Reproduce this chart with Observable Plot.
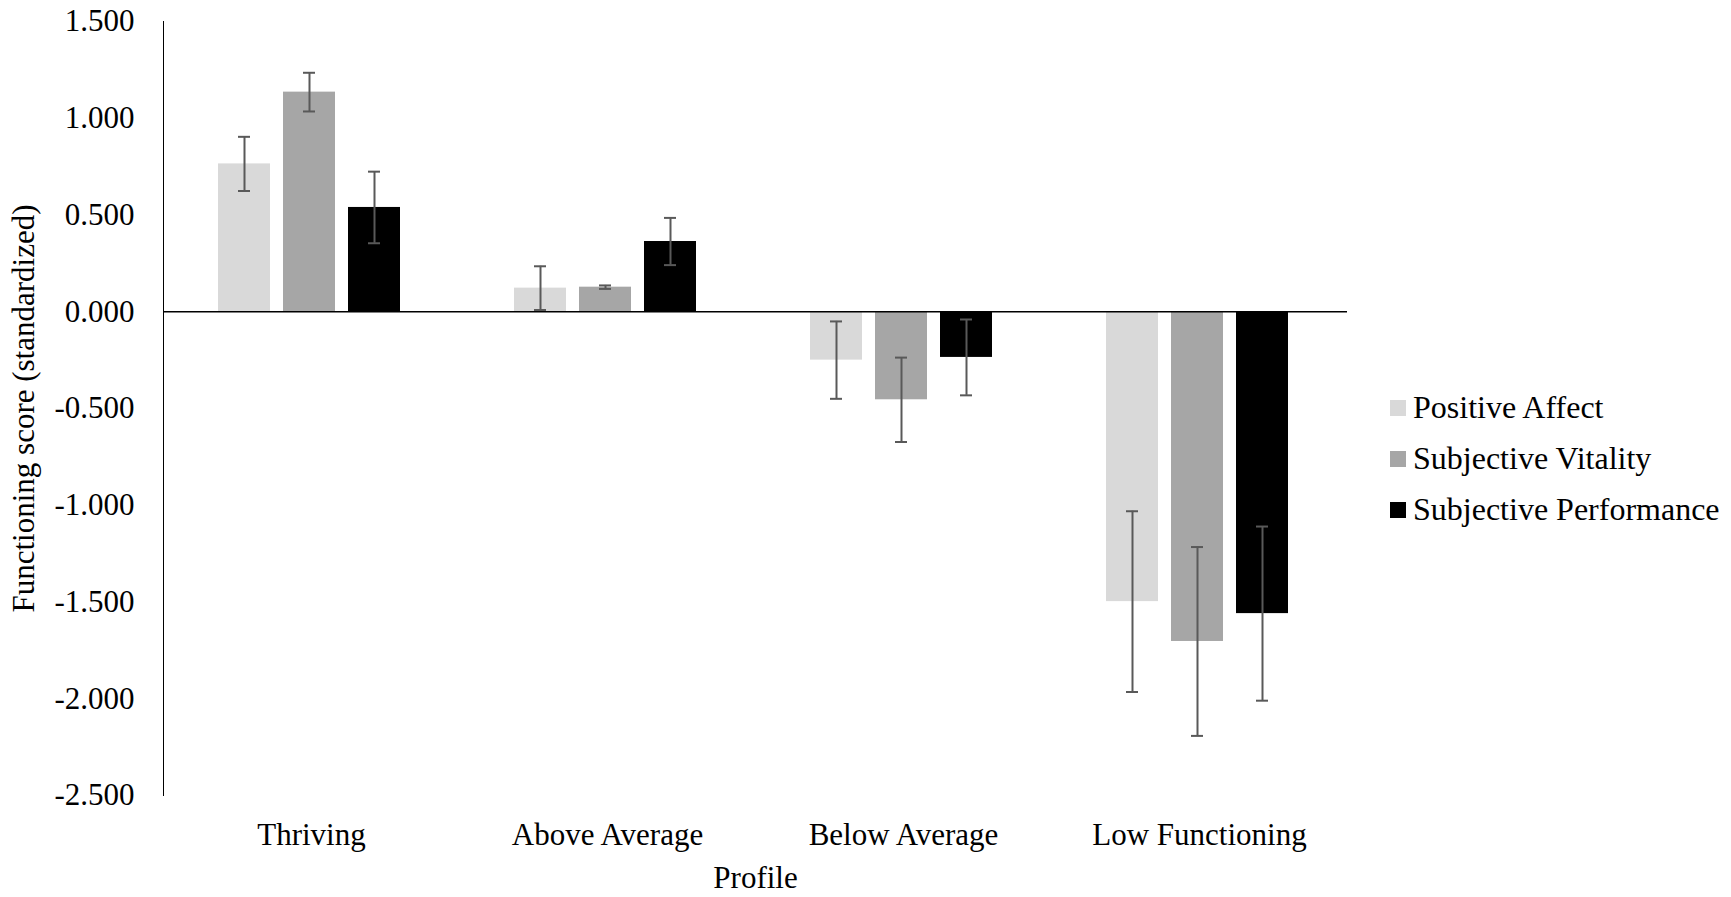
<!DOCTYPE html>
<html>
<head>
<meta charset="utf-8">
<script src="https://cdn.jsdelivr.net/npm/d3@7"></script>
<script src="https://cdn.jsdelivr.net/npm/@observablehq/plot@0.6"></script>
<style>
  html, body { margin: 0; padding: 0; background: #fff; }
  #wrap { position: relative; width: 1731px; height: 897px; }
  #legend { position: absolute; left: 1390px; top: 382px; font-family: 'Liberation Serif', 'Times New Roman', serif; font-size: 32px; color: #000; }
  #legend .row { display: flex; align-items: center; height: 51px; }
  #legend .sw { width: 16px; height: 16px; margin-right: 7px; }
</style>
</head>
<body>
<div id="wrap"></div>
<script>
const profiles = ["Thriving", "Above Average", "Below Average", "Low Functioning"];
const series = ["Positive Affect", "Subjective Vitality", "Subjective Performance"];
const colors = ["#d9d9d9", "#a6a6a6", "#000000"];
const positiveAffect = [0.764, 0.122, -0.250, -1.498];
const subjectiveVitality = [1.135, 0.127, -0.455, -1.704];
const subjectivePerformance = [0.539, 0.363, -0.236, -1.560];
const errPositiveAffect = [0.140, 0.113, 0.200, 0.467];
const errSubjectiveVitality = [0.100, 0.009, 0.218, 0.488];
const errSubjectivePerformance = [0.185, 0.122, 0.196, 0.450];
const yTicks = [-2.5, -2, -1.5, -1, -0.5, 0, 0.5, 1, 1.5];

const values = [positiveAffect, subjectiveVitality, subjectivePerformance];
const errs = [errPositiveAffect, errSubjectiveVitality, errSubjectivePerformance];
const data = [];
profiles.forEach((p, i) => series.forEach((s, j) => {
  data.push({profile: p, series: s, value: values[j][i], lo: values[j][i] - errs[j][i], hi: values[j][i] + errs[j][i]});
}));

const fmt = d3.formatLocale({decimal: ".", thousands: ",", grouping: [3], currency: ["", ""], minus: "-"}).format(".3f");

const chart = Plot.plot({
  width: 1731,
  height: 897,
  marginTop: 21,
  marginBottom: 102,
  marginLeft: 162,
  marginRight: 384,
  style: {fontFamily: "'Liberation Serif', 'Times New Roman', serif", fontSize: "31px", background: "white", color: "#000"},
  fx: {domain: profiles, padding: 0, axis: "bottom", tickSize: 0, tickPadding: 27, label: "Profile", labelAnchor: "center", labelOffset: 92},
  x: {domain: series, paddingInner: 0.205, paddingOuter: 0.847, align: 0.482, axis: null},
  y: {domain: [-2.5, 1.5], ticks: yTicks, tickFormat: fmt, tickSize: 0, tickPadding: 29,
      label: "Functioning score (standardized)", labelAnchor: "center", labelArrow: "none", labelOffset: 152, line: true},
  color: {domain: series, range: colors},
  marks: [
    Plot.barY(data, {fx: "profile", x: "series", y: "value", fill: "series"}),
    Plot.ruleY([0], {stroke: "#000", strokeWidth: 1.5}),
    Plot.ruleX(data, {fx: "profile", x: "series", y1: "lo", y2: "hi", stroke: "#595959", strokeWidth: 2}),
    Plot.tickY(data, {fx: "profile", x: "series", y: "lo", stroke: "#595959", strokeWidth: 2, insetLeft: 20, insetRight: 20}),
    Plot.tickY(data, {fx: "profile", x: "series", y: "hi", stroke: "#595959", strokeWidth: 2, insetLeft: 20, insetRight: 20})
  ]
});
const wrap = document.getElementById("wrap");
wrap.appendChild(chart);

const legend = document.createElement("div");
legend.id = "legend";
series.forEach((s, j) => {
  const row = document.createElement("div");
  row.className = "row";
  const sw = document.createElement("span");
  sw.className = "sw";
  sw.style.background = colors[j];
  const t = document.createElement("span");
  t.textContent = s;
  row.appendChild(sw); row.appendChild(t);
  legend.appendChild(row);
});
wrap.appendChild(legend);
</script>
</body>
</html>
